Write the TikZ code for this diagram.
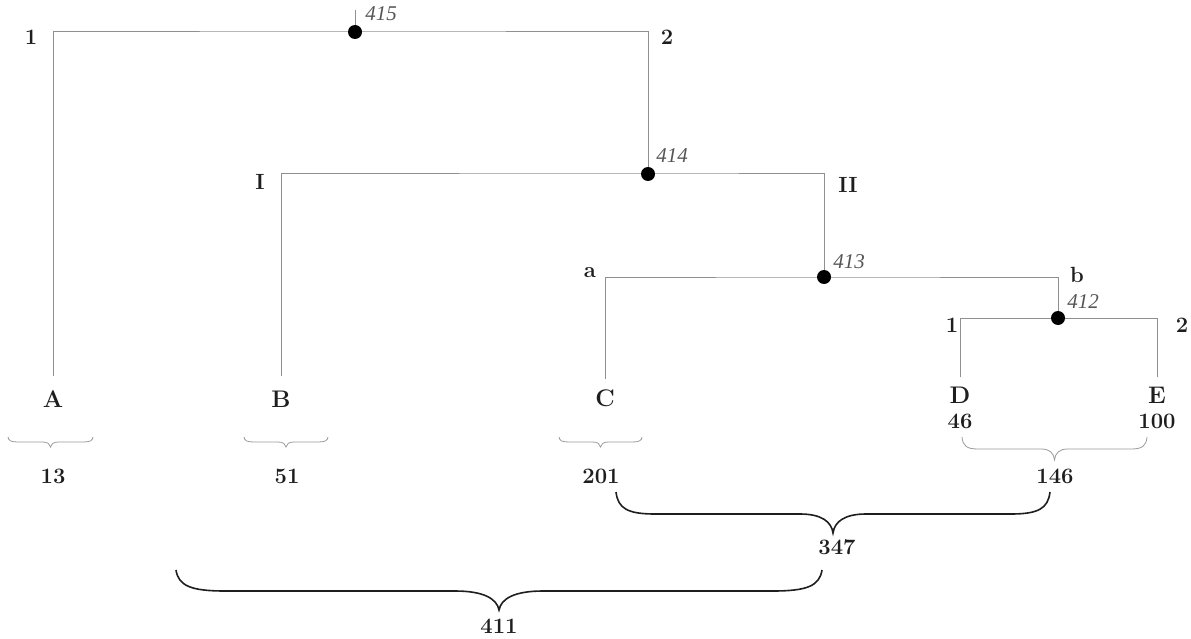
\documentclass[tikz,border=0pt]{standalone}
\usepackage{fontspec}
\newfontfamily\codefont{Liberation Serif}
\usetikzlibrary{backgrounds}
\definecolor{treegray}{HTML}{909090}
\definecolor{bracegray}{HTML}{9A9A9A}
\definecolor{labelgray}{HTML}{555555}
\definecolor{ink}{HTML}{1E1E1E}
\newcommand{\curlyb}[8]{% style, xl, xr, ytop, yline, ytip, endw, tipw
  \pgfmathsetmacro\cbm{(#2+#3)/2}
  \pgfmathsetmacro\cbh{#5-#4}
  \pgfmathsetmacro\cbt{#6-#5}
  \draw[#1] (#2,#4) .. controls ({#2+0.05*#7},{#4+0.75*\cbh}) and ({#2+0.3*#7},#5) .. ({#2+#7},#5)
    -- ({\cbm-#8},#5) .. controls ({\cbm-0.35*#8},#5) and ({\cbm-0.05*#8},{#5+0.4*\cbt}) .. (\cbm,#6)
    .. controls ({\cbm+0.05*#8},{#5+0.4*\cbt}) and ({\cbm+0.35*#8},#5) .. ({\cbm+#8},#5)
    -- ({#3-#7},#5) .. controls ({#3-0.3*#7},#5) and ({#3-0.05*#7},{#4+0.75*\cbh}) .. (#3,#4);
}
\tikzset{
  tree/.style={draw=treegray, line width=1pt},
  dot/.style={circle, fill=black, inner sep=0pt, minimum size=14pt},
  leaf/.style={anchor=base, inner sep=0pt, text=ink, font=\fontsize{24}{28}\selectfont\bfseries},
  num/.style={anchor=base, inner sep=0pt, text=ink, font=\fontsize{22}{26}\selectfont\bfseries},
  branch/.style={anchor=base, inner sep=0pt, text=ink, font=\fontsize{22}{26}\selectfont\bfseries},
  code/.style={anchor=base, inner sep=0pt, text=labelgray, font=\codefont\fontsize{21}{25}\selectfont\itshape},
  thinbrace/.style={draw=bracegray, line width=0.8pt},
  bigbrace/.style={draw=ink, line width=1.6pt},
}
\begin{document}
\begin{tikzpicture}[x=1pt, y=-1pt]
\useasboundingbox (0,0) rectangle (1191,639);
% junction dots
\node[dot] (n415) at (355,32) {};
\node[dot] (n414) at (648,174) {};
\node[dot] (n413) at (824,277) {};
\node[dot] (n412) at (1058,318) {};
\coordinate (t415) at (355,10);
% leaves
\node[leaf] (A) at (53,407) {A};
\node[leaf] (B) at (281,407) {B};
\node[leaf] (C) at (605,406) {C};
\node[leaf] (D) at (960,403) {D};
\node[leaf] (E) at (1157,403) {E};
% tree lines
\begin{scope}[on background layer]
\draw[tree] (n415.center) -- (t415);
\draw[tree, shorten <=14pt] (A.north) |- (n415.center) -| (n414.center);
\draw[tree, shorten <=14pt] (B.north) |- (n414.center) -| (n413.center);
\draw[tree, shorten <=10pt] (C.north) |- (n413.center) -| (n412.center);
\draw[tree, shorten <=9pt] (D.north) |- (n412.center);
\draw[tree, shorten <=9pt] (E.north) |- (n412.center);
\end{scope}
% branch labels
\node[branch] (l1) at (31,45) {1};
\node[branch] (l2) at (667,45) {2};
\node[branch] (lI) at (260,190) {I};
\node[branch] (lII) at (848,193) {II};
\node[branch] (la) at (590,277) {a};
\node[branch] (lb) at (1077,282) {b};
\node[branch] (l1b) at (952,332) {1};
\node[branch] (l2b) at (1182,332) {2};
% codes
\node[code] (c415) at (381,21) {415};
\node[code] (c414) at (672,163) {414};
\node[code] (c413) at (849,268) {413};
\node[code] (c412) at (1083,308) {412};
% numbers
\node[num] (v46) at (960,428) {46};
\node[num] (v100) at (1157,428) {100};
\node[num] (v13) at (53,483) {13};
\node[num] (v51) at (287,483) {51};
\node[num] (v201) at (601,483) {201};
\node[num] (v146) at (1055,483) {146};
\node[num] (v347) at (837,554) {347};
\node[num] (v411) at (499,633) {411};
% braces
\curlyb{thinbrace}{8}{93}{437}{442}{447}{10}{8}
\curlyb{thinbrace}{244}{328}{437}{442}{447}{10}{8}
\curlyb{thinbrace}{559}{642}{437}{442}{447}{10}{8}
\curlyb{thinbrace}{962}{1147}{437}{449}{460}{16}{13}
\curlyb{bigbrace}{616}{1050}{492}{514}{533}{39}{33}
\curlyb{bigbrace}{176}{822}{570}{591}{610}{49}{44}
\end{tikzpicture}
\end{document}
